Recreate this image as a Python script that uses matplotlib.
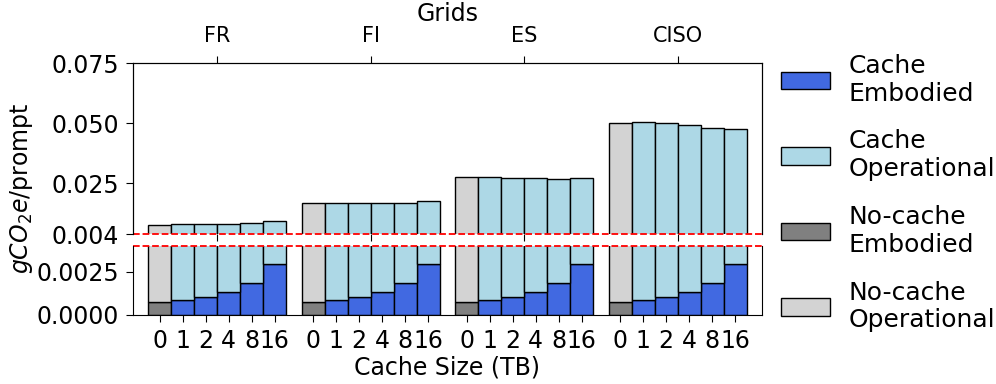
import numpy as np
import matplotlib.pyplot as plt

grids = ['FR', 'FI', 'ES', 'CISO']
cache_sizes = ['0', '1', '2', '4', '8', '16']

# embodied gCO2e/prompt, same for every grid (first entry = no cache)
embodied = [0.00074, 0.00088, 0.00104, 0.00133, 0.00186, 0.00297]

# operational gCO2e/prompt per grid (first entry = no cache)
op_fr = [0.00700, 0.00715, 0.00699, 0.00695, 0.00671, 0.00630]
op_fi = [0.01624, 0.01612, 0.01596, 0.01567, 0.01494, 0.01472]
op_es = [0.02677, 0.02675, 0.02626, 0.02589, 0.02494, 0.02413]
op_ciso = [0.04936, 0.04952, 0.04886, 0.04797, 0.04624, 0.04483]
operational = [op_fr, op_fi, op_es, op_ciso]

width = 0.15
fs = 17

fig = plt.figure(figsize=(9.96, 3.84), dpi=100)
ax_top = fig.add_axes([0.1335, 0.3906, 0.6315, 0.4453])
ax_bot = fig.add_axes([0.1335, 0.1797, 0.6315, 0.1797])

handles = None
xticks = []
for ax in (ax_top, ax_bot):
    for g, op in enumerate(operational):
        xs = g + (np.arange(len(cache_sizes)) - 2.5) * width
        if ax is ax_bot:
            xticks.extend(xs)
        nc_emb = ax.bar(xs[0], embodied[0], width, color='gray', edgecolor='black')
        nc_op = ax.bar(xs[0], op[0], width, bottom=embodied[0], color='lightgray', edgecolor='black')
        c_emb = ax.bar(xs[1:], embodied[1:], width, color='royalblue', edgecolor='black')
        c_op = ax.bar(xs[1:], op[1:], width, bottom=embodied[1:], color='lightblue', edgecolor='black')
        handles = [c_emb, c_op, nc_emb, nc_op]
    ax.set_xlim(-0.55, 3.55)
    ax.tick_params(labelsize=fs, length=5, pad=5)

# upper part of the broken axis
ax_top.set_ylim(0.004, 0.075)
ax_top.set_yticks([0.004, 0.025, 0.05, 0.075])
ax_top.set_yticklabels(['0.004', '0.025', '0.050', '0.075'])
ax_top.spines['bottom'].set_visible(False)
ax_top.tick_params(axis='x', bottom=False, labelbottom=False)
ax_top.axhline(0.004, color='red', ls='--', lw=1.3, clip_on=False)

# lower part
ax_bot.set_ylim(0, 0.004)
ax_bot.set_yticks([0, 0.0025])
ax_bot.set_yticklabels(['0.0000', '0.0025'])
ax_bot.spines['top'].set_visible(False)
ax_bot.axhline(0.004, color='red', ls='--', lw=1.3, clip_on=False)
ax_bot.set_xticks(xticks)
ax_bot.set_xticklabels(cache_sizes * len(grids))
ax_bot.set_xlabel('Cache Size (TB)', fontsize=fs, labelpad=2)

# grid names on top
ax_grid = ax_top.twiny()
ax_grid.set_xlim(ax_top.get_xlim())
ax_grid.set_xticks(range(len(grids)))
ax_grid.set_xticklabels(grids)
ax_grid.tick_params(labelsize=15, length=5, pad=7)
ax_grid.set_xlabel('Grids', fontsize=fs, labelpad=4)
ax_grid.spines['bottom'].set_visible(False)

fig.text(0.022, 0.51, r'$gCO_2e$/prompt', rotation=90, ha='center', va='center', fontsize=fs)

fig.legend(handles, ['Cache\nEmbodied', 'Cache\nOperational', 'No-cache\nEmbodied', 'No-cache\nOperational'],
           loc='center left', bbox_to_anchor=(0.762, 0.497), frameon=False, fontsize=18,
           handlelength=1.95, handletextpad=0.75, labelspacing=0.95)

plt.savefig('out.png', dpi=100)
